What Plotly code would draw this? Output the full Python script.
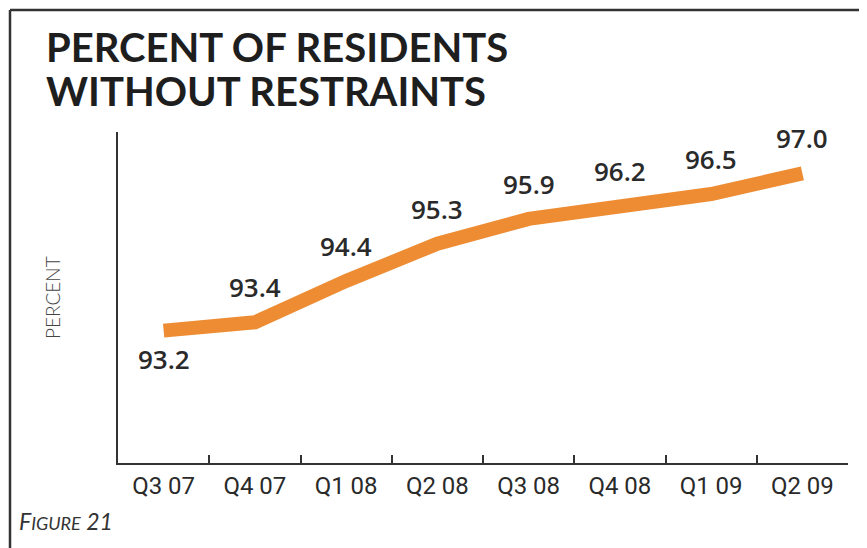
import plotly.graph_objects as go

quarters = ["Q3 07", "Q4 07", "Q1 08", "Q2 08", "Q3 08", "Q4 08", "Q1 09", "Q2 09"]
percent = [93.2, 93.4, 94.4, 95.3, 95.9, 96.2, 96.5, 97.0]

# page body has an 8px margin, so lay out in window pixels and shift back
OFF = 8
W, H = 867, 548
FW, FH = W - OFF, H - OFF
L, T = 118 - OFF, 132 - OFF
R, B = 19, 85
PW, PH = FW - L - R, FH - T - B


def px_x(p):
    return (p - OFF - L) / PW


def px_y(p):
    return (FH - B - (p - OFF)) / PH


ORANGE = "#EE8C33"
DARK = "#2a2a2a"

fig = go.Figure()
fig.add_trace(go.Scatter(
    x=quarters, y=percent, mode="lines",
    line=dict(color=ORANGE, width=14),
    hoverinfo="skip"))

# value labels: first one sits under the line, the rest above
for i, (q, v) in enumerate(zip(quarters, percent)):
    fig.add_annotation(
        x=q, y=v, xref="x", yref="y", text=f"{v:.1f}", showarrow=False,
        yshift=-28 if i == 0 else 35,
        font=dict(family="Open Sans", size=26, color=DARK, weight=600))

title_font = dict(family="Lato", size=40, color="#1e1e1e", weight=700)
fig.add_annotation(
    x=px_x(44), y=px_y(47), xref="paper", yref="paper",
    xanchor="left", yanchor="middle", showarrow=False,
    text="PERCENT OF RESIDENTS", font=title_font)
fig.add_annotation(
    x=px_x(44), y=px_y(91), xref="paper", yref="paper",
    xanchor="left", yanchor="middle", showarrow=False,
    text="WITHOUT RESTRAINTS", font=title_font)

fig.add_annotation(
    x=px_x(52), y=px_y(298), xref="paper", yref="paper", textangle=-90,
    xanchor="center", yanchor="middle",
    showarrow=False, text="PERCENT",
    font=dict(family="Lato", size=19, color="#444444", weight=300))

fig.add_annotation(
    x=px_x(17), y=px_y(521), xref="paper", yref="paper",
    xanchor="left", yanchor="middle", showarrow=False,
    text="<i>F<span style='font-size:18px'>IGURE</span> 21</i>",
    font=dict(family="Lato", size=23, color="#333333"))

# frame: top and left rules
fig.add_shape(type="line", xref="paper", yref="paper",
              x0=px_x(10), x1=px_x(W + 5), y0=px_y(10), y1=px_y(10),
              line=dict(color="#333333", width=2.5))
fig.add_shape(type="line", xref="paper", yref="paper",
              x0=px_x(10), x1=px_x(10), y0=px_y(10), y1=px_y(H + 5),
              line=dict(color="#333333", width=2.5))

fig.update_xaxes(
    type="category", range=[-0.5, len(quarters) - 0.5],
    tickson="boundaries", ticks="inside", ticklen=8, tickwidth=1.5,
    tickcolor="#333333", showline=True, linecolor="#333333", linewidth=2,
    showgrid=False, zeroline=False,
    tickfont=dict(family="Roboto", size=24, color=DARK))
fig.update_yaxes(
    range=[90, 98], showticklabels=False, ticks="", showgrid=False,
    zeroline=False, showline=True, linecolor="#333333", linewidth=2)

fig.update_layout(
    width=FW, height=FH,
    margin=dict(l=L, r=R, t=T, b=B),
    paper_bgcolor="white", plot_bgcolor="white",
    showlegend=False)

fig.write_html("out.html")
